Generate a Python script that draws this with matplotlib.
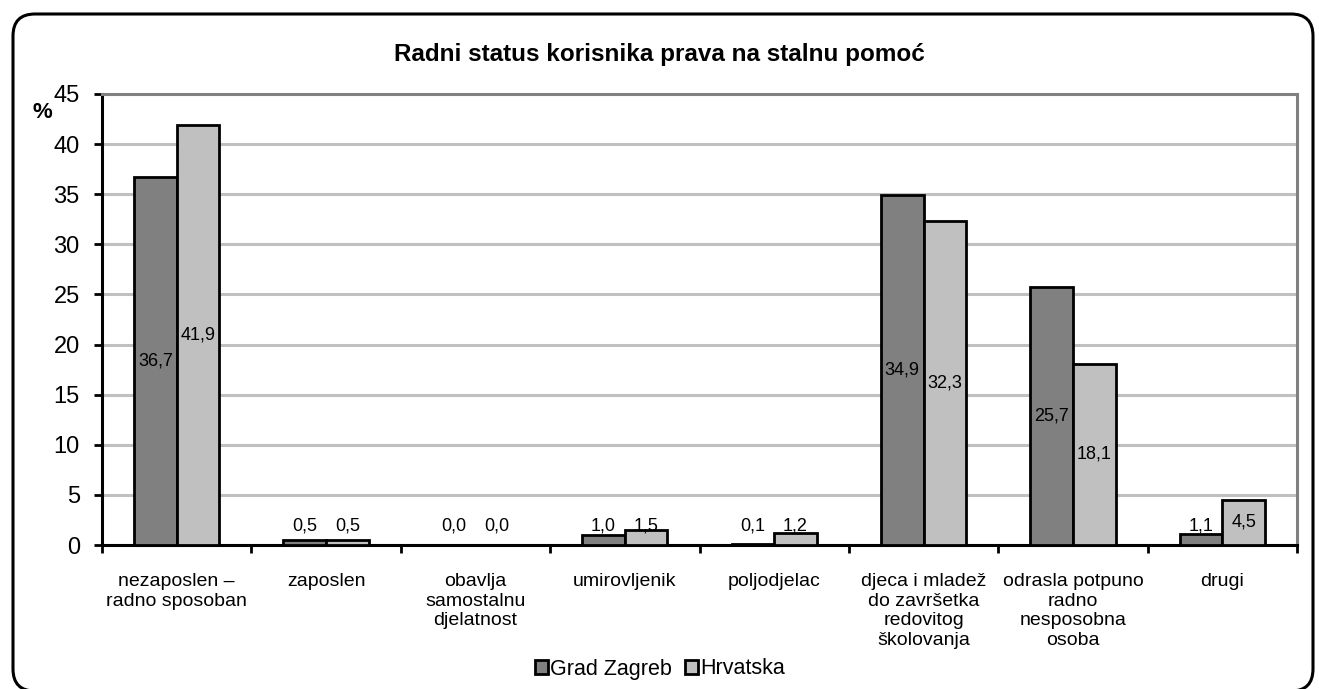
import numpy as np
import matplotlib.pyplot as plt
from matplotlib.patches import FancyBboxPatch

plt.rcParams['font.family'] = ['Liberation Sans', 'DejaVu Sans']

# categories and values (%)
categories = ['nezaposlen –\nradno sposoban', 'zaposlen',
              'obavlja\nsamostalnu\ndjelatnost', 'umirovljenik', 'poljodjelac',
              'djeca i mladež\ndo završetka\nredovitog\nškolovanja',
              'odrasla potpuno\nradno\nnesposobna\nosoba', 'drugi']
zagreb = [36.7, 0.5, 0.0, 1.0, 0.1, 34.9, 25.7, 1.1]
hrvatska = [41.9, 0.5, 0.0, 1.5, 1.2, 32.3, 18.1, 4.5]

W, H = 1319, 689
fig = plt.figure(figsize=(W / 100, H / 100), dpi=100)

# rounded frame around the whole chart
frame = FancyBboxPatch((13, -2), 1300, 677, boxstyle='round,pad=0,rounding_size=22',
                       transform=None, fill=False, edgecolor='black', linewidth=2.2)
fig.patches.append(frame)

ax = fig.add_axes([102 / W, 1 - 545 / H, (1297 - 102) / W, (545 - 94) / H])

x = np.arange(len(categories)) + 0.5
bw = 0.285
ax.bar(x - bw / 2, zagreb, bw, color='#808080', edgecolor='black', linewidth=2,
       label='Grad Zagreb', zorder=3)
ax.bar(x + bw / 2, hrvatska, bw, color='#c0c0c0', edgecolor='black', linewidth=2,
       label='Hrvatska', zorder=3)

# value labels in the middle of each bar, lifted above the axis for short bars
for xs, vals in ((x - bw / 2, zagreb), (x + bw / 2, hrvatska)):
    for xi, v in zip(xs, vals):
        ax.text(xi, max(v / 2, 1.85), f'{v:.1f}'.replace('.', ','),
                ha='center', va='center', fontsize=13, zorder=4)

ax.set_xlim(0, len(categories))
ax.set_ylim(0, 45)
ax.set_yticks(np.arange(0, 46, 5))
ax.tick_params(axis='y', labelsize=17, length=6, width=2, direction='out', pad=10)
ax.yaxis.grid(True, color='#c0c0c0', linewidth=2.2, zorder=0)
ax.set_axisbelow(True)

ax.set_xticks(np.arange(0, len(categories) + 1))
ax.set_xticklabels([])
ax.set_xticks(x, minor=True)
ax.set_xticklabels(categories, minor=True, fontsize=14, va='top', linespacing=1.22)
ax.tick_params(axis='x', which='major', length=6, width=2, direction='out')
ax.tick_params(axis='x', which='minor', length=0, pad=20)

ax.spines['left'].set_linewidth(2.2)
ax.spines['bottom'].set_linewidth(2.2)
for s in ('top', 'right'):
    ax.spines[s].set_color('#808080')
    ax.spines[s].set_linewidth(2.2)

fig.text(42 / W, 1 - 112 / H, '%', fontsize=16, fontweight='bold', ha='center', va='center')
fig.text(659 / W, 1 - 54 / H, 'Radni status korisnika prava na stalnu pomoć',
         fontsize=17.5, fontweight='bold', ha='center', va='center')

leg = fig.legend(loc='center', bbox_to_anchor=(660 / W, 1 - 669 / H), ncol=2,
                 frameon=False, fontsize=15.5, handlelength=0.6, handleheight=0.6,
                 handletextpad=0.1, columnspacing=0.6)

fig.savefig('out.png', dpi=100)
